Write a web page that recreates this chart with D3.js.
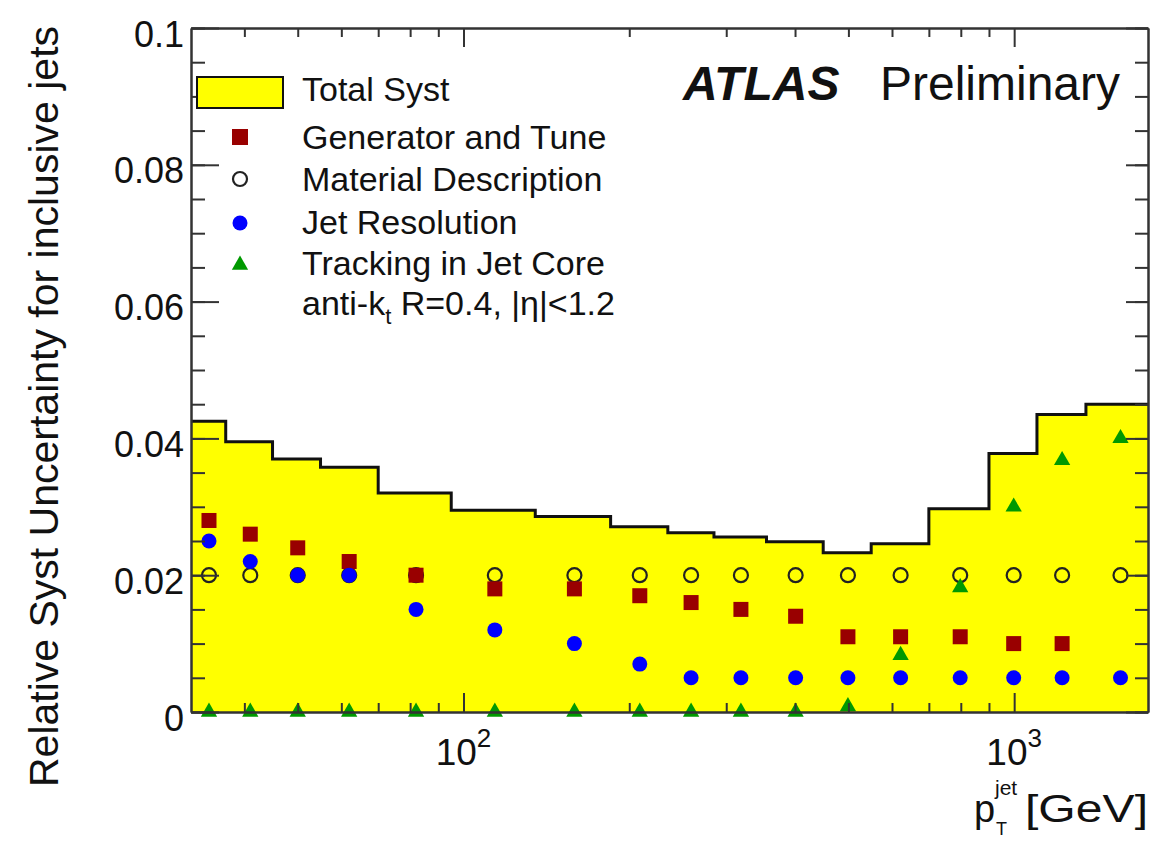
<!DOCTYPE html>
<html>
<head>
<meta charset="utf-8">
<script src="https://cdn.jsdelivr.net/npm/d3@7"></script>
<style>
  body { margin: 0; background: #fff; }
  text { font-family: "Liberation Sans", Arial, Helvetica, sans-serif; fill: #111; }
</style>
</head>
<body>
<div id="chart"></div>
<script>
// bin edges of the total systematic histogram (GeV)
const binEdges = [32, 37, 45, 55, 70, 95, 135, 185, 235, 285, 355, 450, 550, 700, 900, 1100, 1350, 1750];
const totalSyst = [0.0425, 0.0395, 0.0370, 0.0358, 0.0320, 0.0295, 0.0286, 0.0271, 0.0262, 0.0256, 0.0249, 0.0233, 0.0246, 0.0297, 0.0378, 0.0435, 0.0450];

// marker positions (bin centres, GeV)
const ptPoints = [34.5, 41, 50, 62, 82, 114, 159, 209, 259, 319, 401, 499, 622, 798, 998, 1222, 1560];
const generatorTune = [0.028, 0.026, 0.024, 0.022, 0.020, 0.018, 0.018, 0.017, 0.016, 0.015, 0.014, 0.011, 0.011, 0.011, 0.010, 0.010, null];
const materialDesc = [0.020, 0.020, 0.020, 0.020, 0.020, 0.020, 0.020, 0.020, 0.020, 0.020, 0.020, 0.020, 0.020, 0.020, 0.020, 0.020, 0.020];
const jetResolution = [0.025, 0.022, 0.020, 0.020, 0.015, 0.012, 0.010, 0.007, 0.005, 0.005, 0.005, 0.005, 0.005, 0.005, 0.005, 0.005, 0.005];
const trackingCore = [0, 0, 0, 0, 0, 0, 0, 0, 0, 0, 0, 0.0008, 0.0083, 0.0182, 0.030, 0.0368, 0.040];

const yMajor = [0, 0.02, 0.04, 0.06, 0.08, 0.1];
const yMinor = d3.range(0, 0.1001, 0.005);
const xMajor = [100, 1000];
const xMinor = [40, 50, 60, 70, 80, 90, 200, 300, 400, 500, 600, 700, 800, 900];

const width = 1173, height = 841;
const margin = {top: 28, right: 25, bottom: 129, left: 191};

const svg = d3.select("#chart").append("svg")
  .attr("width", width).attr("height", height);

const x = d3.scaleLog().domain([32, 1750]).range([margin.left, width - margin.right]);
const y = d3.scaleLinear().domain([0, 0.1]).range([height - margin.bottom, margin.top]);

// total syst filled step histogram
const stepData = binEdges.map((e, i) => ({x: e, v: totalSyst[Math.min(i, totalSyst.length - 1)]}));
svg.append("path")
  .attr("d", d3.area().curve(d3.curveStepAfter).x(d => x(d.x)).y0(y(0)).y1(d => y(d.v))(stepData))
  .attr("fill", "#ffff00");
svg.append("path")
  .attr("d", d3.line().curve(d3.curveStepAfter).x(d => x(d.x)).y(d => y(d.v))(stepData))
  .attr("fill", "none").attr("stroke", "#111").attr("stroke-width", 3);

function series(vals){ return ptPoints.map((p, i) => ({p: p, v: vals[i]})).filter(d => d.v !== null); }

// material description: open circles
svg.append("g").selectAll("circle").data(series(materialDesc)).enter().append("circle")
  .attr("cx", d => x(d.p)).attr("cy", d => y(d.v)).attr("r", 7)
  .attr("fill", "none").attr("stroke", "#222").attr("stroke-width", 2.2);
// generator and tune: squares
svg.append("g").selectAll("rect").data(series(generatorTune)).enter().append("rect")
  .attr("x", d => x(d.p) - 7.5).attr("y", d => y(d.v) - 7.5).attr("width", 15).attr("height", 15)
  .attr("fill", "#990000");
// jet resolution: filled circles
svg.append("g").selectAll("circle").data(series(jetResolution)).enter().append("circle")
  .attr("cx", d => x(d.p)).attr("cy", d => y(d.v)).attr("r", 7.5)
  .attr("fill", "#0000ff");
// tracking in jet core: triangles
const tri = d3.symbol().type(d3.symbolTriangle).size(115);
svg.append("g").selectAll("path").data(series(trackingCore)).enter().append("path")
  .attr("d", tri).attr("transform", d => `translate(${x(d.p)},${y(d.v)})`)
  .attr("fill", "#009900");

// axes with inward ticks (ROOT style)
const axisCol = "#333";
function styleAxis(g){
  g.selectAll("line").attr("stroke", axisCol).attr("stroke-width", 2);
  g.selectAll("path").attr("stroke", axisCol).attr("stroke-width", 2);
}
svg.append("g").attr("transform", `translate(0,${y(0)})`)
  .call(d3.axisBottom(x).tickValues(xMinor).tickSize(-9).tickSizeOuter(0).tickFormat("")).call(styleAxis);
svg.append("g").attr("transform", `translate(0,${y(0)})`)
  .call(d3.axisBottom(x).tickValues(xMajor).tickSize(-19).tickSizeOuter(0).tickFormat("")).call(styleAxis);
svg.append("g").attr("transform", `translate(0,${y(0.1)})`)
  .call(d3.axisTop(x).tickValues(xMinor).tickSize(-9).tickSizeOuter(0).tickFormat("")).call(styleAxis);
svg.append("g").attr("transform", `translate(0,${y(0.1)})`)
  .call(d3.axisTop(x).tickValues(xMajor).tickSize(-19).tickSizeOuter(0).tickFormat("")).call(styleAxis);

svg.append("g").attr("transform", `translate(${x(32)},0)`)
  .call(d3.axisLeft(y).tickValues(yMinor).tickSize(-14).tickSizeOuter(0).tickFormat("")).call(styleAxis);
const yAxis = svg.append("g").attr("transform", `translate(${x(32)},0)`)
  .call(d3.axisLeft(y).tickValues(yMajor).tickSize(-28).tickSizeOuter(0).tickPadding(7)
    .tickFormat(d => d === 0 ? "0" : String(+d.toFixed(2)))).call(styleAxis);
yAxis.selectAll("text").attr("font-size", 36).attr("dy", "0.5em")
  .style("font-family", "'Liberation Sans', Arial, sans-serif").attr("fill", "#111");
svg.append("g").attr("transform", `translate(${x(1750)},0)`)
  .call(d3.axisRight(y).tickValues(yMinor).tickSize(-13).tickSizeOuter(0).tickFormat("")).call(styleAxis);
svg.append("g").attr("transform", `translate(${x(1750)},0)`)
  .call(d3.axisRight(y).tickValues(yMajor).tickSize(-22).tickSizeOuter(0).tickFormat("")).call(styleAxis);

// x tick labels 10^n
xMajor.forEach(v => {
  const t = svg.append("text").attr("x", x(v)).attr("y", y(0) + 53)
    .attr("text-anchor", "middle").attr("font-size", 37);
  t.append("tspan").text("10");
  t.append("tspan").attr("font-size", 26).attr("dy", -18).text(String(Math.round(Math.log10(v))));
});

// axis titles
svg.append("text").attr("transform", `translate(58,${(28 + 785) / 2}) rotate(-90)`)
  .attr("text-anchor", "middle").attr("font-size", 41)
  .text("Relative Syst Uncertainty for inclusive jets");

svg.append("text").attr("x", 1148).attr("y", 822).attr("text-anchor", "end")
  .attr("font-size", 38).attr("textLength", 123).attr("lengthAdjust", "spacingAndGlyphs").text("[GeV]");
svg.append("text").attr("x", 974).attr("y", 822).attr("font-size", 38).text("p");
svg.append("text").attr("x", 995).attr("y", 795).attr("font-size", 21).text("jet");
svg.append("text").attr("x", 996).attr("y", 835).attr("font-size", 18).text("T");

// legend
const legX = 302;
svg.append("rect").attr("x", 197).attr("y", 77).attr("width", 86).attr("height", 31)
  .attr("fill", "#ffff00").attr("stroke", "#111").attr("stroke-width", 2);
svg.append("text").attr("x", legX).attr("y", 101).attr("font-size", 34).text("Total Syst");

svg.append("rect").attr("x", 240 - 8).attr("y", 137 - 8).attr("width", 16).attr("height", 16).attr("fill", "#990000");
svg.append("text").attr("x", legX).attr("y", 149).attr("font-size", 34).text("Generator and Tune");

svg.append("circle").attr("cx", 240).attr("cy", 179).attr("r", 7)
  .attr("fill", "none").attr("stroke", "#222").attr("stroke-width", 2.2);
svg.append("text").attr("x", legX).attr("y", 191).attr("font-size", 34).text("Material Description");

svg.append("circle").attr("cx", 240).attr("cy", 223).attr("r", 7.5).attr("fill", "#0000ff");
svg.append("text").attr("x", legX).attr("y", 234).attr("font-size", 34).text("Jet Resolution");

svg.append("path").attr("d", tri).attr("transform", "translate(240,265)").attr("fill", "#009900");
svg.append("text").attr("x", legX).attr("y", 275).attr("font-size", 34).text("Tracking in Jet Core");

const ak = svg.append("text").attr("x", legX).attr("y", 315).attr("font-size", 34);
ak.append("tspan").text("anti-k");
ak.append("tspan").attr("font-size", 22).attr("dy", 9).text("t");
ak.append("tspan").attr("dy", -9).text(" R=0.4, |η|<1.2");

// ATLAS label
svg.append("text").attr("x", 683).attr("y", 100).attr("font-size", 48)
  .attr("font-weight", "bold").attr("font-style", "italic").text("ATLAS");
svg.append("text").attr("x", 880).attr("y", 100).attr("font-size", 48).text("Preliminary");
</script>
</body>
</html>
